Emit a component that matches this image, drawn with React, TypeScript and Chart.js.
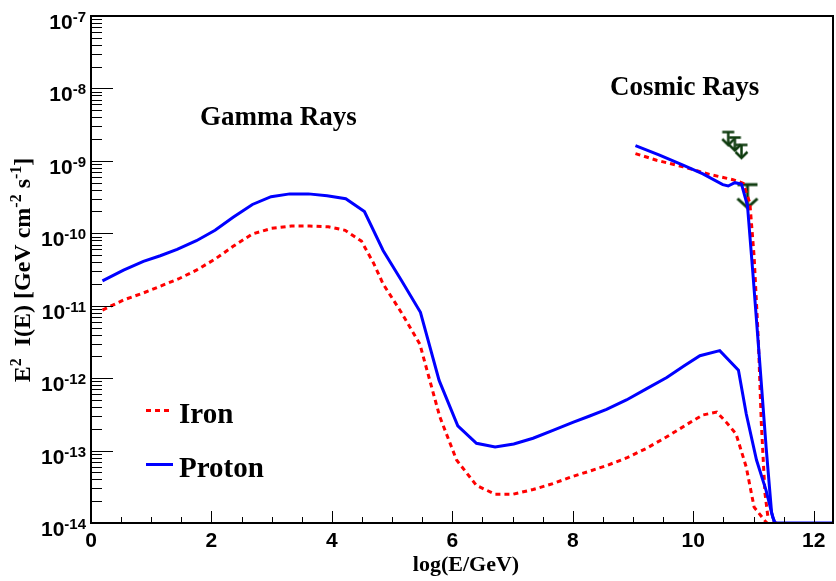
import React, { useEffect, useRef } from 'react';
import { Chart, registerables } from 'chart.js';

Chart.register(...registerables);

// ---- Data (x = log10(E/GeV), y = E^2 I(E) in GeV cm^-2 s^-1) ----
const protonGammaX = [0.19, 0.54, 0.87, 1.15, 1.43, 1.75, 2.06, 2.36, 2.68, 2.99, 3.30, 3.61, 3.92, 4.23, 4.54, 4.85, 5.16, 5.47, 5.78, 6.09, 6.40, 6.71, 7.02, 7.34, 7.67, 8.00, 8.28, 8.56, 8.89, 9.22, 9.56, 9.85, 10.11, 10.44, 10.75, 10.88, 11.05, 11.21, 11.32, 11.36, 12.32];
const protonGammaY = [2.2e-11, 3.1e-11, 4.1e-11, 4.9e-11, 6.0e-11, 7.9e-11, 1.1e-10, 1.66e-10, 2.5e-10, 3.2e-10, 3.5e-10, 3.5e-10, 3.3e-10, 3.0e-10, 2.0e-10, 5.8e-11, 2.2e-11, 8.1e-12, 9.3e-13, 2.2e-13, 1.26e-13, 1.12e-13, 1.23e-13, 1.48e-13, 1.9e-13, 2.45e-13, 3.0e-13, 3.7e-13, 5.0e-13, 7.1e-13, 1.02e-12, 1.48e-12, 2.04e-12, 2.4e-12, 1.29e-12, 3.2e-13, 7.4e-14, 2.8e-14, 1.2e-14, 1e-14, 1e-14];

const protonCosmicX = [9.04, 9.44, 9.83, 10.16, 10.49, 10.58, 10.69, 10.80, 10.90, 10.99, 11.10, 11.21, 11.30, 11.35];
const protonCosmicY = [1.62e-9, 1.2e-9, 8.7e-10, 6.6e-10, 4.7e-10, 4.5e-10, 5.0e-10, 4.8e-10, 2.4e-10, 2.8e-11, 1.8e-12, 1.1e-13, 1.4e-14, 1e-14];

const ironGammaX = [0.19, 0.54, 0.87, 1.15, 1.45, 1.75, 2.06, 2.36, 2.68, 3.00, 3.33, 3.63, 3.94, 4.22, 4.49, 4.69, 4.85, 5.16, 5.46, 5.79, 6.07, 6.40, 6.71, 7.01, 7.34, 7.67, 8.00, 8.28, 8.56, 8.89, 9.22, 9.56, 10.00, 10.16, 10.39, 10.55, 10.71, 10.88, 11.01, 11.16, 11.22, 11.40];
const ironGammaY = [8.7e-12, 1.2e-11, 1.5e-11, 1.86e-11, 2.34e-11, 3.1e-11, 4.4e-11, 6.6e-11, 9.8e-11, 1.17e-10, 1.26e-10, 1.26e-10, 1.23e-10, 1.1e-10, 7.8e-11, 3.9e-11, 2.0e-11, 7.9e-12, 2.95e-12, 2.95e-13, 7.4e-14, 3.3e-14, 2.5e-14, 2.5e-14, 2.9e-14, 3.5e-14, 4.4e-14, 5.2e-14, 6.2e-14, 7.9e-14, 1.07e-13, 1.55e-13, 2.6e-13, 3.1e-13, 3.4e-13, 2.45e-13, 1.7e-13, 5.9e-14, 1.66e-14, 1.15e-14, 1e-14, 1e-14];

const ironCosmicX = [9.04, 9.39, 9.83, 10.27, 10.66, 10.83, 10.94, 11.01, 11.08, 11.13, 11.19, 11.24];
const ironCosmicY = [1.26e-9, 1.02e-9, 8.3e-10, 6.5e-10, 5.5e-10, 4.9e-10, 2.6e-10, 4.8e-11, 3.4e-12, 2.4e-13, 2.6e-14, 1.2e-14];

// upper limits (cosmic-ray data)
const limitSmallX = [10.58, 10.69, 10.80];
const limitSmallY = [2.5e-9, 2.1e-9, 1.66e-9];
const limitLargeX = [10.90];
const limitLargeY = [4.7e-10];

// axes
const xMin = 0;
const xMax = 12.32;
const xMajorTicks = [0, 2, 4, 6, 8, 10, 12];
const yDecades = [-14, -13, -12, -11, -10, -9, -8, -7];

const seriesNames = ['Iron', 'Proton'];
const xTitle = 'log(E/GeV)';
const gammaLabel = 'Gamma Rays';
const cosmicLabel = 'Cosmic Rays';

const BLUE = '#0000ff';
const RED = '#ff0000';
const GREEN = '#0f3c0f';
const SANS = '"Liberation Sans", Arial, sans-serif';
const SERIF = '"Liberation Serif", "Times New Roman", serif';

// target plot frame in the page
const FRAME = { left: 91, right: 833, top: 16, bottom: 523 };

const pts = (xs: number[], ys: number[]) => xs.map((x, i) => ({ x, y: ys[i] }));

function makeArrow(barHalf: number, len: number, headHalf: number, headLen: number, lw: number) {
  const c = document.createElement('canvas');
  const w = Math.ceil(2 * Math.max(barHalf, headHalf) + lw * 2 + 2);
  const h = Math.ceil(2 * (len + lw + 1));
  c.width = w;
  c.height = h;
  const ctx = c.getContext('2d')!;
  const cx = w / 2;
  const cy = h / 2;
  ctx.strokeStyle = GREEN;
  ctx.lineWidth = lw;
  ctx.beginPath();
  ctx.moveTo(cx - barHalf, cy);
  ctx.lineTo(cx + barHalf, cy);
  ctx.moveTo(cx, cy);
  ctx.lineTo(cx, cy + len);
  ctx.stroke();
  ctx.beginPath();
  ctx.moveTo(cx - headHalf, cy + len - headLen);
  ctx.lineTo(cx, cy + len);
  ctx.lineTo(cx + headHalf, cy + len - headLen);
  ctx.stroke();
  return c;
}

const framePlugin = {
  id: 'rootFrame',
  afterDatasetsDraw(chart: any) {
    const ctx = chart.ctx as CanvasRenderingContext2D;
    const { left, right, top, bottom } = chart.chartArea;
    const xs = chart.scales.x;
    const ys = chart.scales.y;
    ctx.save();

    // frame
    ctx.strokeStyle = '#000';
    ctx.lineWidth = 2;
    ctx.strokeRect(left, top, right - left, bottom - top);

    // y ticks (log)
    ctx.lineWidth = 1;
    ctx.beginPath();
    for (let i = 0; i < yDecades.length; i++) {
      const k = yDecades[i];
      const py = Math.round(ys.getPixelForValue(Math.pow(10, k))) + 0.5;
      ctx.moveTo(left, py);
      ctx.lineTo(left + 22, py);
      if (i < yDecades.length - 1) {
        for (let m = 2; m <= 9; m++) {
          const pm = Math.round(ys.getPixelForValue(m * Math.pow(10, k))) + 0.5;
          ctx.moveTo(left, pm);
          ctx.lineTo(left + 11, pm);
        }
      }
    }
    // x ticks
    for (let v = xMin; v <= xMax + 1e-9; v += 0.5) {
      const px = Math.round(xs.getPixelForValue(v)) + 0.5;
      const isMajor = Math.abs(v / 2 - Math.round(v / 2)) < 1e-6;
      ctx.moveTo(px, bottom);
      ctx.lineTo(px, bottom - (isMajor ? 12 : 6));
    }
    ctx.stroke();

    ctx.fillStyle = '#000';
    // y tick labels
    ctx.textBaseline = 'alphabetic';
    ctx.textAlign = 'left';
    for (const k of yDecades) {
      const py = ys.getPixelForValue(Math.pow(10, k));
      const sup = String(k);
      ctx.font = `bold 15px ${SANS}`;
      const wSup = ctx.measureText(sup).width;
      ctx.font = `bold 21px ${SANS}`;
      const wBase = ctx.measureText('10').width;
      const rx = left - 5;
      ctx.fillText('10', rx - wSup - wBase, py + 13);
      ctx.font = `bold 15px ${SANS}`;
      ctx.fillText(sup, rx - wSup, py + 6);
    }
    // x tick labels
    ctx.font = `bold 21px ${SANS}`;
    ctx.textAlign = 'center';
    for (const v of xMajorTicks) {
      ctx.fillText(String(v), xs.getPixelForValue(v), bottom + 24);
    }

    // x title
    ctx.font = `bold 22px ${SERIF}`;
    ctx.fillText(xTitle, 466, 571);

    // y title (rotated, with superscripts)
    const parts: [string, boolean][] = [
      ['E', false], ['2', true], ['  I(E) [GeV cm', false], ['-2', true], [' s', false], ['-1', true], [']', false],
    ];
    const mainFont = `bold 24px ${SERIF}`;
    const supFont = `bold 16px ${SERIF}`;
    let total = 0;
    for (const [t, s] of parts) {
      ctx.font = s ? supFont : mainFont;
      total += ctx.measureText(t).width;
    }
    ctx.save();
    ctx.translate(30, 270);
    ctx.rotate(-Math.PI / 2);
    ctx.textAlign = 'left';
    let cx = -total / 2;
    for (const [t, s] of parts) {
      ctx.font = s ? supFont : mainFont;
      ctx.fillText(t, cx, s ? -9 : 0);
      cx += ctx.measureText(t).width;
    }
    ctx.restore();

    // annotations
    ctx.textAlign = 'left';
    ctx.font = `bold 27px ${SERIF}`;
    ctx.fillText(gammaLabel, 200, 125);
    ctx.fillText(cosmicLabel, 610, 95);

    // legend
    ctx.lineWidth = 3;
    ctx.strokeStyle = RED;
    ctx.setLineDash([5, 4]);
    ctx.beginPath();
    ctx.moveTo(146, 410.5);
    ctx.lineTo(173, 410.5);
    ctx.stroke();
    ctx.setLineDash([]);
    ctx.strokeStyle = BLUE;
    ctx.beginPath();
    ctx.moveTo(146, 464.5);
    ctx.lineTo(173, 464.5);
    ctx.stroke();
    ctx.font = `bold 29px ${SERIF}`;
    ctx.fillText(seriesNames[0], 179, 423);
    ctx.fillText(seriesNames[1], 179, 477);

    ctx.restore();
  },
};

// force the chart area onto the target frame
const areaPlugin = {
  id: 'fixArea',
  afterLayout(chart: any) {
    const ca = chart.chartArea;
    ca.left = FRAME.left;
    ca.right = FRAME.right;
    ca.top = FRAME.top;
    ca.bottom = FRAME.bottom;
    ca.width = FRAME.right - FRAME.left;
    ca.height = FRAME.bottom - FRAME.top;
    const xs = chart.scales.x;
    const ys = chart.scales.y;
    xs.left = FRAME.left; xs.right = FRAME.right; xs.width = FRAME.right - FRAME.left;
    xs.top = FRAME.bottom; xs.bottom = FRAME.bottom;
    ys.top = FRAME.top; ys.bottom = FRAME.bottom; ys.height = FRAME.bottom - FRAME.top;
    ys.left = FRAME.left; ys.right = FRAME.left;
    xs.configure();
    ys.configure();
  },
};

export default function App() {
  const ref = useRef<HTMLCanvasElement | null>(null);
  useEffect(() => {
    if (!ref.current) return;
    const smallArrow = makeArrow(6, 13, 6, 6, 2.5);
    const largeArrow = makeArrow(10, 23, 10, 9, 3);
    const chart = new Chart(ref.current, {
      type: 'line',
      data: {
        datasets: [
          { label: 'Proton gamma', data: pts(protonGammaX, protonGammaY), borderColor: BLUE, borderWidth: 3, pointRadius: 0 },
          { label: 'Proton cosmic', data: pts(protonCosmicX, protonCosmicY), borderColor: BLUE, borderWidth: 3, pointRadius: 0 },
          { label: 'Iron gamma', data: pts(ironGammaX, ironGammaY), borderColor: RED, borderWidth: 3, borderDash: [5, 4], pointRadius: 0 },
          { label: 'Iron cosmic', data: pts(ironCosmicX, ironCosmicY), borderColor: RED, borderWidth: 3, borderDash: [5, 4], pointRadius: 0 },
          { label: 'Limits small', data: pts(limitSmallX, limitSmallY), showLine: false, pointStyle: smallArrow as any, pointRadius: 10 },
          { label: 'Limits large', data: pts(limitLargeX, limitLargeY), showLine: false, pointStyle: largeArrow as any, pointRadius: 10 },
        ] as any,
      },
      options: {
        animation: false,
        responsive: false,
        maintainAspectRatio: false,
        layout: { padding: { left: 91, right: 3, top: 16, bottom: 58 } },
        plugins: { legend: { display: false }, tooltip: { enabled: false } },
        elements: { line: { tension: 0, fill: false } },
        scales: {
          x: { type: 'linear', min: xMin, max: xMax, display: false },
          y: { type: 'logarithmic', min: 1e-14, max: 1e-7, display: false },
        },
      },
      plugins: [areaPlugin, framePlugin],
    });
    return () => chart.destroy();
  }, []);
  return (
    <div style={{ position: 'fixed', left: 0, top: 0, width: 836, height: 581, background: '#fff' }}>
      <canvas ref={ref} width={836} height={581} style={{ display: 'block', width: 836, height: 581 }} />
    </div>
  );
}
